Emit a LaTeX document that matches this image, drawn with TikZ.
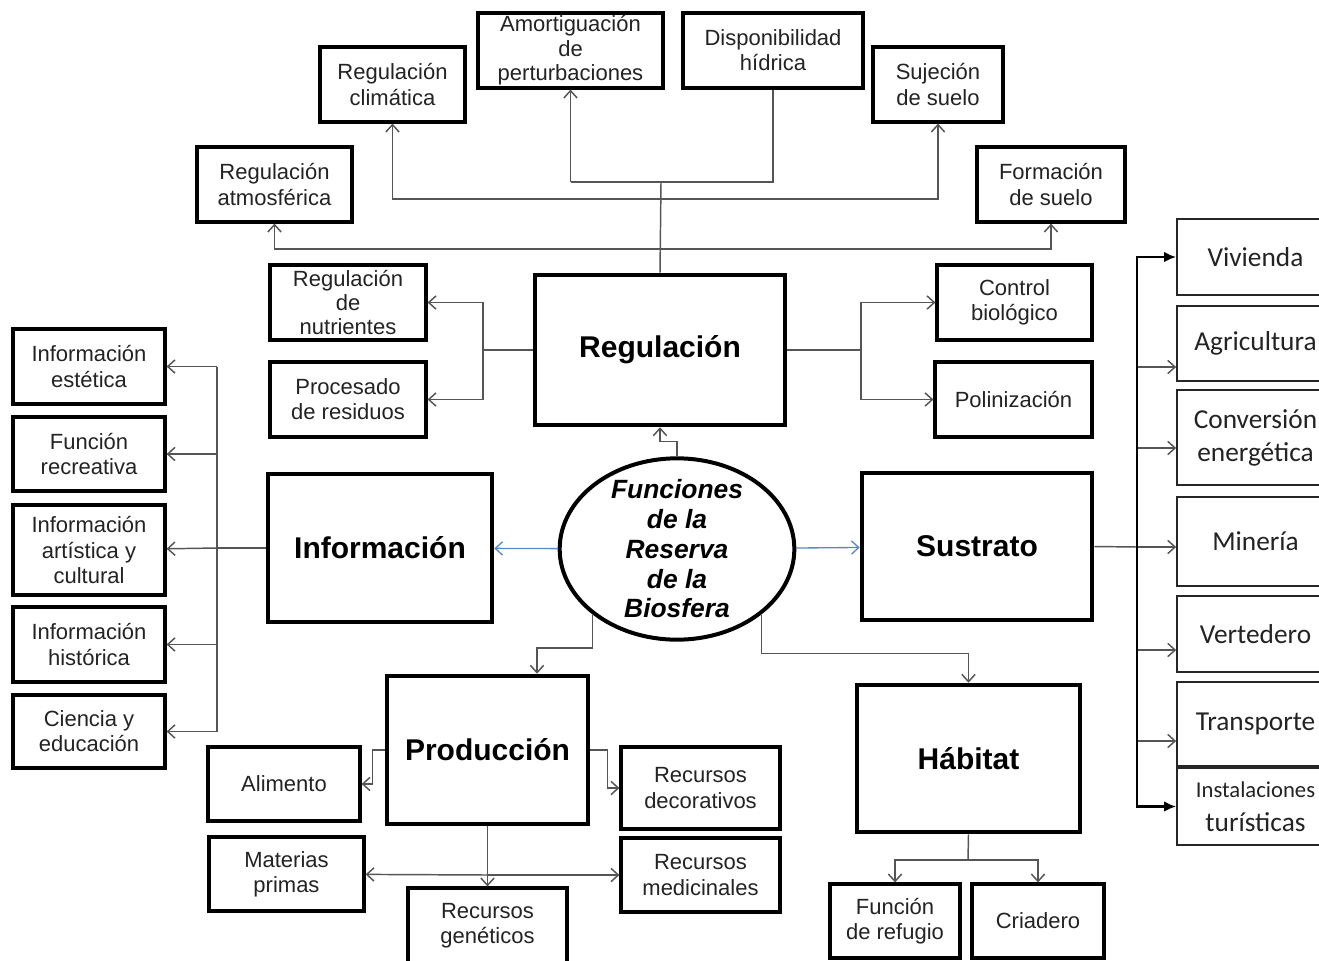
\documentclass[tikz,border=0pt]{standalone}
\usepackage{fontspec}
\setmainfont{Liberation Sans}
\newfontfamily\calib{Carlito}
\usetikzlibrary{shapes.geometric,arrows.meta}
\definecolor{lin}{RGB}{85,85,85}
\definecolor{blu}{RGB}{90,135,200}
\definecolor{txt}{RGB}{35,35,35}
\newcommand\bxnode[6]{\node[#1, minimum width={(#4-#2)*0.75pt}, minimum height={(#5-#3)*0.75pt}] (#6) at ({(#2+#4)/2},{(#3+#5)/2})}
\begin{document}
\begin{tikzpicture}[x=0.75pt,y=-0.75pt,
  sbox/.style={draw=black, line width=2.4pt, fill=white, inner sep=0pt, align=center, text=txt, font=\fontsize{16.5}{18.8}\selectfont},
  mbox/.style={draw=black, line width=3.4pt, fill=white, inner sep=0pt, align=center, text=black, font=\fontsize{22.5}{26}\selectfont\bfseries},
  rbox/.style={draw=black!85, line width=1.3pt, fill=white, inner sep=0pt, align=center, text=txt, font=\calib\fontsize{20.5}{24.7}\selectfont},
  conn/.style={draw=lin, line width=1.1pt},
  arr/.style={conn, -{Straight Barb[length=5.5pt,width=10pt]}},
  barr/.style={draw=blu, line width=1pt, -{Straight Barb[length=5.5pt,width=10pt]}},
  tarr/.style={draw=black, line width=2.2pt, -{Latex[length=9pt,width=8pt]}},
]
\useasboundingbox (0,0) rectangle (1319,960);
\clip (0,0) rectangle (1319,960);

% Regulacion group
\bxnode{sbox}{320}{47}{465}{122}{clim} {Regulación\\climática};
\bxnode{sbox,font=\fontsize{16.5}{18.3}\selectfont}{478}{13}{663}{88}{amo} {Amortiguación\\de\\perturbaciones};
\bxnode{sbox}{683}{13}{863}{88}{dis} {Disponibilidad\\hídrica};
\bxnode{sbox}{873}{47}{1003}{122}{suj} {Sujeción\\de suelo};
\bxnode{sbox}{197}{147}{352}{222}{atm} {Regulación\\atmosférica};
\bxnode{sbox}{977}{147}{1125}{222}{for} {Formación\\de suelo};
\bxnode{sbox,font=\fontsize{16.5}{18.3}\selectfont}{270}{265}{426}{340}{nut} {Regulación\\de\\nutrientes};
\bxnode{sbox}{270}{362}{426}{437}{res} {Procesado\\de residuos};
\bxnode{sbox}{937}{265}{1092}{340}{bio} {Control\\biológico};
\bxnode{sbox}{935}{362}{1092}{437}{pol} {Polinización};

% main boxes
\bxnode{mbox}{535}{275}{785}{425}{reg} {Regulación};
\bxnode{mbox}{268}{474}{492}{622}{inf} {Información};
\bxnode{mbox}{862}{473}{1092}{620}{sus} {Sustrato};
\bxnode{mbox}{387}{676}{588}{824}{pro} {Producción};
\bxnode{mbox}{857}{685}{1080}{832}{hab} {Hábitat};
\node[draw, ellipse, line width=3pt, minimum width=176pt, minimum height=136pt, inner sep=0pt, fill=white] (ell) at (677,549) {};
\node[font=\fontsize{19.8}{22.3}\selectfont\bfseries\itshape, align=center, inner sep=0pt] (ellt) at (ell.center) {Funciones\\de la\\Reserva\\de la\\Biosfera};

% Informacion group
\bxnode{sbox}{13}{329}{165}{404}{est} {Información\\estética};
\bxnode{sbox}{13}{417}{165}{491}{rec} {Función\\recreativa};
\bxnode{sbox}{13}{505}{165}{595}{art} {Información\\artística y\\cultural};
\bxnode{sbox}{13}{607}{165}{682}{his} {Información\\histórica};
\bxnode{sbox}{13}{695}{165}{768}{cie} {Ciencia y\\educación};

% Produccion group
\bxnode{sbox}{208}{747}{360}{821}{ali} {Alimento};
\bxnode{sbox}{209}{837}{364}{911}{mat} {Materias\\primas};
\bxnode{sbox}{408}{888}{567}{964}{gen} {Recursos\\genéticos};
\bxnode{sbox}{621}{747}{780}{829}{dec} {Recursos\\decorativos};
\bxnode{sbox}{621}{838}{780}{912}{med} {Recursos\\medicinales};

% Habitat group
\bxnode{sbox}{830}{884}{960}{958}{ref} {Función\\de refugio};
\bxnode{sbox}{972}{884}{1104}{958}{cri} {Criadero};

% Sustrato group
\bxnode{rbox}{1177}{219}{1334}{295}{viv} {Vivienda};
\bxnode{rbox}{1177}{306}{1334}{381}{agr} {Agricultura};
\bxnode{rbox}{1177}{390}{1334}{485}{con} {Conversión\\energética};
\bxnode{rbox}{1177}{497}{1334}{586}{min} {Minería};
\bxnode{rbox}{1177}{596}{1334}{672}{ver} {Vertedero};
\bxnode{rbox}{1177}{682}{1334}{766}{tra} {Transporte};
\bxnode{rbox}{1177}{768}{1334}{845}{ins} {{\fontsize{17}{20}\selectfont Instalaciones}\\[1pt]turísticas};

% --- connectors: Regulacion ---
\coordinate (rt) at (661,182);
\coordinate (r1) at (661,199);
\coordinate (r2) at (661,249);
\draw[conn] (reg.north) -- (rt);
\draw[conn] (dis.south) -- (dis.south |- rt) -- (amo.south |- rt);
\draw[arr] (amo.south |- rt) -- (amo.south);
\draw[arr] (r1) -| (clim.south);
\draw[arr] (r1) -| (suj.south);
\draw[arr] (r2) -| (atm.south);
\draw[arr] (r2) -| (for.south);

\coordinate (rl) at (483,350);
\coordinate (rr) at (861,350);
\draw[conn] (reg.west) -- (rl);
\draw[arr] (rl) |- (nut);
\draw[arr] (rl) |- (res);
\draw[conn] (reg.east) -- (rr);
\draw[arr] (rr) |- (bio);
\draw[arr] (rr) |- (pol);

% --- ellipse ---
\draw[arr] (ell.north) -- ++(0,-15) -| (reg.south);
\draw[barr] (ell) -- (inf);
\draw[barr] (ell) -- (sus);
\coordinate (pa) at (537,648);
\draw[arr] (ell.south west) |- (pa) -- (pa |- pro.north);
\draw[arr] (ell.south east) -- ++(0,39) -| (hab.north);

% --- Informacion ---
\coordinate (iL) at (217,548);
\draw[conn] (inf.west) -- (iL);
\draw[conn] (iL |- est) -- (iL |- cie);
\draw[arr] (iL |- est) -- (est);
\draw[arr] (iL |- rec) -- (rec);
\draw[arr] (iL) -- (art);
\draw[arr] (iL |- his) -- (his);
\draw[arr] (iL |- cie) -- (cie);

% --- Produccion ---
\draw[arr] (pro.west) -- ++(-12,0) |- (ali);
\draw[arr] (pro.east) -- ++(17,0) |- (dec);
\coordinate (pb) at (488,875);
\draw[arr] (pro.south) -- (gen.north);
\draw[arr] (pb) -- (mat);
\draw[arr] (pb) -- (med);

% --- Habitat ---
\coordinate (hb) at (968,860);
\draw[conn] (hab.south) -- (hb);
\draw[arr] (hb) -| (ref.north);
\draw[arr] (hb) -| (cri.north);

% --- Sustrato ---
\coordinate (sb) at (1137,547);
\coordinate (s1) at (1137,367);
\coordinate (s2) at (1137,448);
\coordinate (s3) at (1137,650);
\coordinate (s4) at (1137,741);
\draw[conn] (sus.east) -- (sb);
\draw[arr] (s1) -- (s1 -| agr.west);
\draw[arr] (s2) -- (s2 -| con.west);
\draw[arr] (sb) -- (sb -| min.west);
\draw[arr] (s3) -- (s3 -| ver.west);
\draw[arr] (s4) -- (s4 -| tra.west);
\draw[tarr] (sb) |- (viv);
\draw[tarr] (sb) |- (ins);
\end{tikzpicture}
\end{document}
